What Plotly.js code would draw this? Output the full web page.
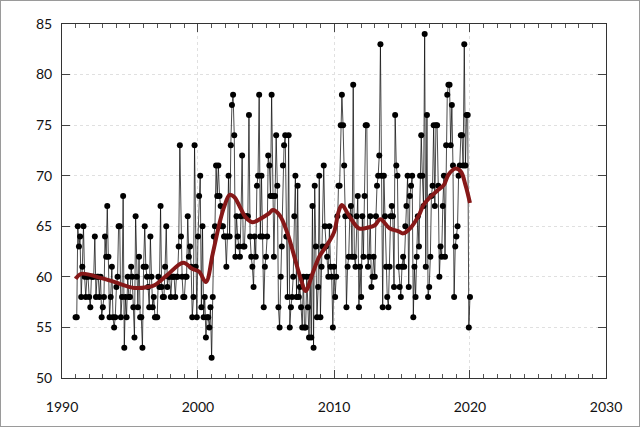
<!DOCTYPE html>
<html>
<head>
<meta charset="utf-8">
<script src="https://cdn.plot.ly/plotly-3.0.1.min.js"></script>
<style>
  html, body { margin: 0; padding: 0; background: #fff; }
  #chart { width: 640px; height: 427px; box-sizing: border-box; border: 1px solid #9a9a9a; }
</style>
</head>
<body>
<div id="chart"></div>
<script>
// Monthly observations, first month = January 1991
const START_YEAR = 1991;
const START_MONTH = 1;

const values1991_1995 = [56,56,65,63,64,58,61,65,60,58,
  60,60,58,57,60,60,60,64,58,60,
  60,58,60,56,57,58,64,62,67,62,
  56,58,61,56,55,56,59,60,65,65,
  56,58,68,53,58,56,60,58,58,61,
  60,57,54,66];
const values1995_2000 = [60,57,62,56,56,53,61,65,61,60,
  59,57,64,60,57,58,56,56,56,60,
  59,67,59,58,58,61,65,59,60,60,
  58,60,60,60,58,60,60,63,73,64,
  60,58,58,60,60,66,62,63,61,56,
  58,73,61,56,64,68,70];
const values2000_2005 = [57,65,56,58,54,56,56,55,57,52,
  58,64,65,71,68,71,68,67,65,65,64,64,61,64,70,64,73,77,78,
  74,62,66,64,63,62,66,72,63,63,66,66,66,76,
  64,62,61,59,64,62,69,70,78,
  64,70,64,57,61,62,64,72];
const values2005_2009 = [71,68,78,
  68,62,68,74,69,57,55,60,63,71,73,74,64,58,74,55,57,58,60,66,70,58,69,58,59,57,55,60,55,55,60,57,54,60,54,67,53,
  69,63,56,59,70,56,61,63,71,65,63,62,60,65,61,60,55];
const values2010_2014 = [61,58,60,66,69,69,75,78,
  75,71,66,57,61,62,66,67,62,79,
  62,61,66,68,57,61,58,66,62,68,75,75,61,62,66,59,60,62,60,66,69,70,72,83,
  70,57,70,66,61,58,57,61,66,67,66,59,76];
const values2014_2020 = [71,70,61,59,58,61,62,61,65,67,70,59,68,69,70,56,
  61,58,62,66,63,70,74,70,67,84,
  61,76,58,59,62,68,69,75,67,75,75,69,60,63,62,67,70,62,73,78,79,79,73,77,71,58,63,64,65,70,71,74,74,71,83,
  71,76,76,55,58];

// Smoothed trend
const trendDates = ['1991-01','1991-06','1992-11','1993-11','1995-05','1996-05','1996-11','1997-10','1998-12','1999-08',
  '2000-02','2000-08','2001-02','2001-08','2001-12','2002-05','2002-09','2003-02','2003-07','2004-01',
  '2004-09','2005-04','2005-07','2006-01','2006-08','2007-02','2007-08','2007-12','2008-06','2008-12',
  '2009-06','2010-01','2010-05','2010-08','2011-02','2011-11','2012-08','2013-01','2013-06','2014-02',
  '2014-10','2015-02','2015-09','2016-04','2016-08','2017-02','2017-09','2018-02','2018-06','2018-12',
  '2019-05','2019-09','2020-01'];
const trendValues = [59.8,60.3,59.9,59.5,58.9,59.0,59.2,60.2,61.4,60.8,
  60.5,59.5,62.3,65.3,66.9,68.1,67.9,66.9,65.9,65.4,
  65.8,66.3,66.6,66.1,64.3,62.0,59.7,58.6,60.3,62.0,
  63.0,64.4,66.4,67.1,66.1,64.8,64.9,65.1,65.7,64.8,
  64.5,64.3,64.9,66.1,67.1,67.9,68.6,69.1,70.1,70.7,
  70.4,69.1,67.3];

const xTickVals = ['1990-01-01','2000-01-01','2010-01-01','2020-01-01','2030-01-01'];
const xTickText = ['1990','2000','2010','2020','2030'];
const yTickVals = [50,55,60,65,70,75,80,85];

const values = [].concat(values1991_1995, values1995_2000, values2000_2005,
  values2005_2009, values2010_2014, values2014_2020);
const dates = values.map((v, i) => {
  const m = START_MONTH - 1 + i;
  const y = START_YEAR + Math.floor(m / 12);
  const mm = (m % 12) + 1;
  return y + '-' + String(mm).padStart(2, '0') + '-01';
});

const font = { family: 'Lato, "DejaVu Sans", sans-serif', size: 14, color: '#111' };

const axisCommon = {
  showline: true, linecolor: '#333', linewidth: 1, mirror: 'ticks',
  ticks: 'inside', ticklen: 8, tickcolor: '#444', tickwidth: 1,
  showgrid: true, gridcolor: '#e0e0e0', griddash: 'dot', gridwidth: 1,
  zeroline: false, tickfont: font
};

const traces = [
  {
    x: dates, y: values, type: 'scatter', mode: 'lines+markers',
    line: { color: 'rgba(0,0,0,0.7)', width: 1 },
    marker: { color: '#000', size: 6 },
    hoverinfo: 'x+y', showlegend: false
  },
  {
    x: trendDates, y: trendValues, type: 'scatter', mode: 'lines',
    line: { color: '#861818', width: 4, shape: 'spline', smoothing: 1 },
    showlegend: false
  }
];

const layout = {
  width: 638, height: 425,
  margin: { l: 61, r: 33, t: 23, b: 48 },
  paper_bgcolor: '#fff', plot_bgcolor: '#fff',
  font: font,
  xaxis: Object.assign({}, axisCommon, {
    type: 'date', range: ['1990-01-01', '2030-01-01'],
    tickmode: 'array', tickvals: xTickVals, ticktext: xTickText,
    ticklabelstandoff: 16,
    minor: { dtick: 'M12', tick0: '1990-01-01', ticklen: 4, tickcolor: '#555', ticks: 'inside', showgrid: false }
  }),
  yaxis: Object.assign({}, axisCommon, {
    range: [50, 85], tickmode: 'array', tickvals: yTickVals,
    ticklabelstandoff: 6
  }),
  showlegend: false
};

Plotly.newPlot('chart', traces, layout, { displayModeBar: false, staticPlot: true });
</script>
</body>
</html>
